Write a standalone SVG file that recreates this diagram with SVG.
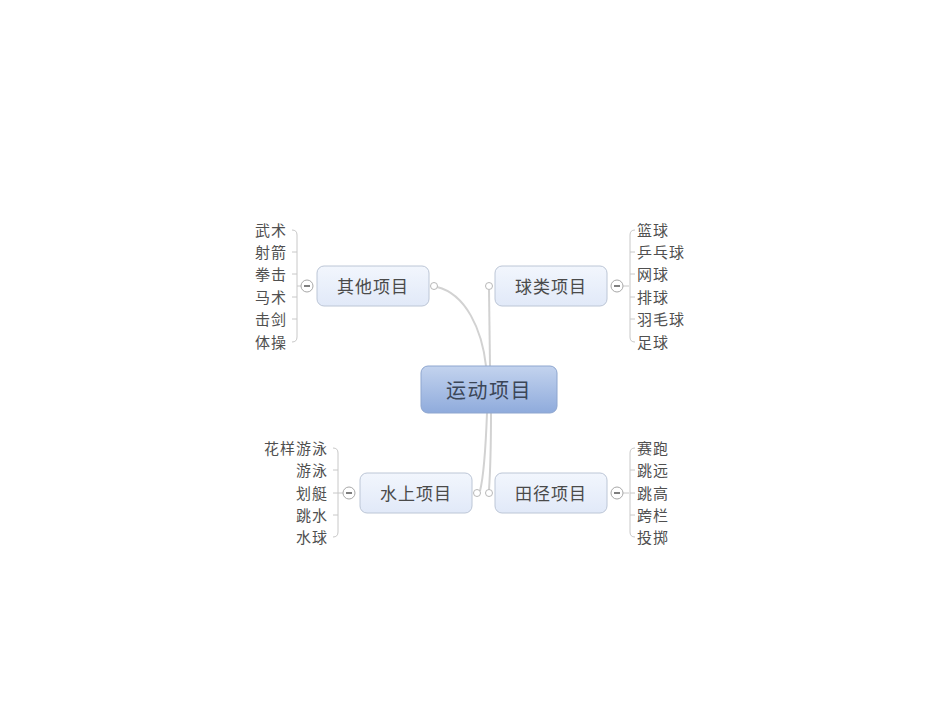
<svg xmlns="http://www.w3.org/2000/svg" width="950" height="713" viewBox="0 0 950 713">
<defs>
<linearGradient id="cg" x1="0" y1="0" x2="0" y2="1">
<stop offset="0" stop-color="#c3d3ee"/>
<stop offset="1" stop-color="#8fabdc"/>
</linearGradient>
<linearGradient id="ng" x1="0" y1="0" x2="0" y2="1">
<stop offset="0" stop-color="#f2f6fd"/>
<stop offset="1" stop-color="#e1e9f8"/>
</linearGradient>
</defs>
<style>
.node{fill:url(#ng);stroke:#bcc6d6;stroke-width:1}
.nt{font-family:"Noto Sans CJK SC",sans-serif;font-size:17px;letter-spacing:1px;fill:#4a4a4a;text-anchor:middle;dominant-baseline:central}
.ct{font-family:"Noto Sans CJK SC",sans-serif;font-size:20px;letter-spacing:1.5px;fill:#3b4657;text-anchor:middle;dominant-baseline:central}
.lf{font-family:"Noto Sans CJK SC",sans-serif;font-size:15px;letter-spacing:1px;fill:#505050;dominant-baseline:central}
.r{text-anchor:end}
.conn{fill:none;stroke:#d2d2d2;stroke-width:2}
.br{fill:none;stroke:#c8c8c8;stroke-width:1}
.dot{fill:#fff;stroke:#b8b8b8;stroke-width:1}
.btn{fill:#fff;stroke:#a8a8a8;stroke-width:1}
.minus{stroke:#555;stroke-width:1.5}
</style>
<rect width="950" height="713" fill="#fff"/>
<g id="connectors">
<path class="conn" d="M437,287 C466,294 482,330 486,366"/>
<path class="conn" d="M489,290 L490,366"/>
<path class="conn" d="M487,413 C486,440 484,475 480,491"/>
<path class="conn" d="M491,413 C491,440 490,475 489,490"/>
<circle class="dot" cx="434" cy="286" r="3.5"/>
<circle class="dot" cx="489" cy="286" r="3.5"/>
<circle class="dot" cx="477" cy="493" r="3.5"/>
<circle class="dot" cx="489" cy="493" r="3.5"/>
</g>
<g id="center">
<rect x="421" y="366" width="136" height="47" rx="7" fill="url(#cg)" stroke="#8ea6cf"/>
<text class="ct" x="489" y="389">运动项目</text>
</g>
<g id="other">
<rect class="node" x="317" y="266" width="112" height="40" rx="7"/>
<text class="nt" x="373" y="285.5">其他项目</text>
<path class="br" d="M301,286 H297 M292,230 Q297,230 297,235 V337 Q297,342 292,342 M292,252 H297 M292,274 H297 M292,297 H297 M292,319 H297"/>
<circle class="btn" cx="307" cy="286" r="6"/>
<line class="minus" x1="304" y1="286" x2="310" y2="286"/>
<text class="lf r" x="287" y="229.5">武术</text>
<text class="lf r" x="287" y="251.5">射箭</text>
<text class="lf r" x="287" y="273.5">拳击</text>
<text class="lf r" x="287" y="296.5">马术</text>
<text class="lf r" x="287" y="318.5">击剑</text>
<text class="lf r" x="287" y="341.5">体操</text>
</g>
<g id="ball">
<rect class="node" x="495" y="266" width="112" height="40" rx="7"/>
<text class="nt" x="551" y="285.5">球类项目</text>
<path class="br" d="M623,286 H629 M635,230 Q630,230 630,235 V337 Q630,342 635,342 M630,252 H635 M630,274 H635 M630,297 H635 M630,319 H635"/>
<circle class="btn" cx="617" cy="286" r="6"/>
<line class="minus" x1="614" y1="286" x2="620" y2="286"/>
<text class="lf" x="637" y="229.5">篮球</text>
<text class="lf" x="637" y="251.5">乒乓球</text>
<text class="lf" x="637" y="273.5">网球</text>
<text class="lf" x="637" y="296.5">排球</text>
<text class="lf" x="637" y="318.5">羽毛球</text>
<text class="lf" x="637" y="341.5">足球</text>
</g>
<g id="water">
<rect class="node" x="360" y="473" width="112" height="40" rx="7"/>
<text class="nt" x="416" y="492.5">水上项目</text>
<path class="br" d="M343,493 H338 M333,448 Q338,448 338,453 V532 Q338,537 333,537 M333,470 H338 M333,493 H338 M333,515 H338"/>
<circle class="btn" cx="349" cy="493" r="6"/>
<line class="minus" x1="346" y1="493" x2="352" y2="493"/>
<text class="lf r" x="328" y="447.5">花样游泳</text>
<text class="lf r" x="328" y="469.5">游泳</text>
<text class="lf r" x="328" y="492.5">划艇</text>
<text class="lf r" x="328" y="514.5">跳水</text>
<text class="lf r" x="328" y="536.5">水球</text>
</g>
<g id="track">
<rect class="node" x="495" y="473" width="112" height="40" rx="7"/>
<text class="nt" x="551" y="492.5">田径项目</text>
<path class="br" d="M623,493 H629 M635,448 Q630,448 630,453 V532 Q630,537 635,537 M630,470 H635 M630,493 H635 M630,515 H635"/>
<circle class="btn" cx="617" cy="493" r="6"/>
<line class="minus" x1="614" y1="493" x2="620" y2="493"/>
<text class="lf" x="637" y="447.5">赛跑</text>
<text class="lf" x="637" y="469.5">跳远</text>
<text class="lf" x="637" y="492.5">跳高</text>
<text class="lf" x="637" y="514.5">跨栏</text>
<text class="lf" x="637" y="536.5">投掷</text>
</g>
</svg>
